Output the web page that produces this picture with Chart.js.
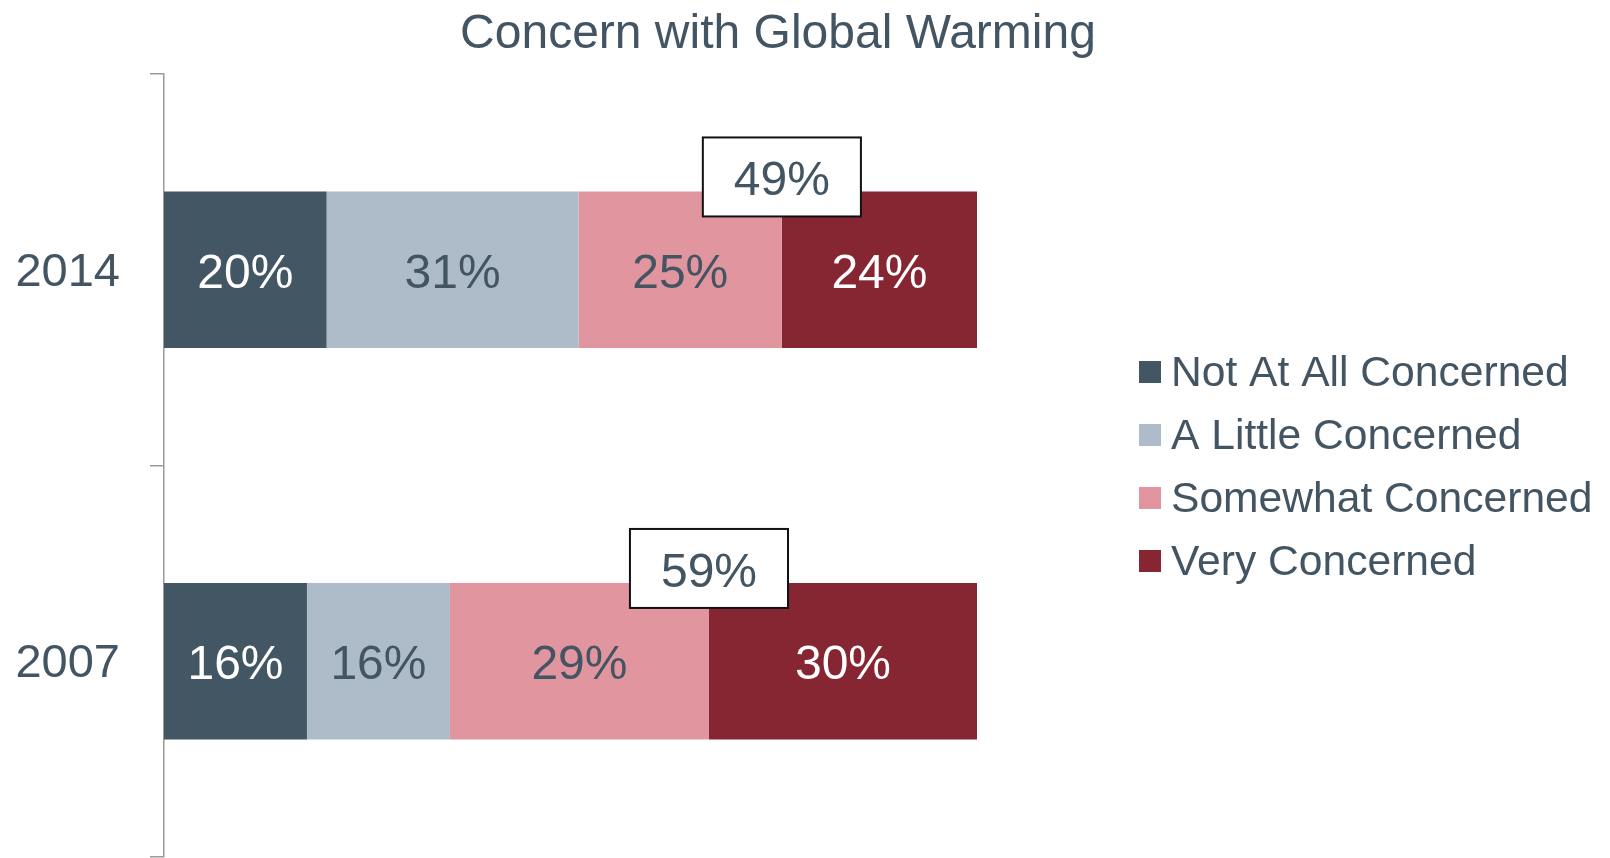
<!DOCTYPE html>
<html>
<head>
<meta charset="utf-8">
<script src="https://cdn.jsdelivr.net/npm/chart.js@4.4.1/dist/chart.umd.min.js"></script>
<style>
html, body { margin: 0; padding: 0; background: #ffffff; }
canvas { display: block; }
</style>
</head>
<body>
<canvas id="c" width="1610" height="858"></canvas>
<script>
// ---- data ----
const categories = ['2014', '2007'];
const seriesNames = ['Not At All Concerned', 'A Little Concerned', 'Somewhat Concerned', 'Very Concerned'];
const notAtAll = [20, 16];
const aLittle = [31, 16];
const somewhat = [25, 29];
const very = [24, 30];
const concernedTotal = [49, 59]; // boxed labels (Somewhat + Very)

// ---- style ----
const FONT = "'Liberation Sans', Arial, Helvetica, sans-serif";
const TEXT = '#435563';
const colors = ['#435664', '#adbcc8', '#e1959e', '#862633'];
const labelColors = ['#ffffff', TEXT, TEXT, '#ffffff'];

const seriesValues = [notAtAll, aLittle, somewhat, very];
const rowTotals = categories.map((_, i) => seriesValues.reduce((s, arr) => s + arr[i], 0));

const datasets = seriesValues.map((arr, k) => ({
  label: seriesNames[k],
  rawValues: arr,
  data: arr.map((v, i) => v / rowTotals[i] * 100),
  backgroundColor: colors[k],
  borderWidth: 0,
  barPercentage: 1,
  categoryPercentage: 0.4
}));

const barLabels = {
  id: 'barLabels',
  afterDatasetsDraw(chart) {
    const ctx = chart.ctx;
    ctx.save();
    ctx.font = '48px ' + FONT;
    ctx.textAlign = 'center';
    ctx.textBaseline = 'middle';
    chart.data.datasets.forEach((ds, di) => {
      const meta = chart.getDatasetMeta(di);
      meta.data.forEach((bar, i) => {
        const p = bar.getProps(['x', 'y', 'base'], true);
        ctx.fillStyle = labelColors[di];
        ctx.fillText(ds.rawValues[i] + '%', (p.x + p.base) / 2, p.y + 5);
      });
    });
    // boxed totals centred on the Somewhat / Very boundary
    const meta = chart.getDatasetMeta(2);
    meta.data.forEach((bar, i) => {
      const p = bar.getProps(['x', 'y', 'height'], true);
      const txt = concernedTotal[i] + '%';
      const w = ctx.measureText(txt).width + 62;
      const h = 79;
      const top = p.y - p.height / 2 - 54;
      const left = p.x - w / 2;
      ctx.fillStyle = '#ffffff';
      ctx.fillRect(left, top, w, h);
      ctx.lineWidth = 2;
      ctx.strokeStyle = '#111111';
      ctx.strokeRect(left, top, w, h);
      ctx.fillStyle = TEXT;
      ctx.fillText(txt, p.x, top + h / 2 + 5);
    });
    ctx.restore();
  }
};

const sideLegend = {
  id: 'sideLegend',
  afterDraw(chart) {
    const ctx = chart.ctx;
    const x0 = 1139, top0 = 361, gap = 63, sw = 22;
    ctx.save();
    ctx.font = '42.6px ' + FONT;
    ctx.textAlign = 'left';
    ctx.textBaseline = 'middle';
    chart.data.datasets.forEach((ds, di) => {
      const y = top0 + di * gap;
      ctx.fillStyle = ds.backgroundColor;
      ctx.fillRect(x0, y, sw, sw);
      ctx.fillStyle = TEXT;
      ctx.fillText(ds.label, x0 + 32, y + sw / 2 + 2);
    });
    ctx.restore();
  }
};

new Chart(document.getElementById('c'), {
  type: 'bar',
  data: { labels: categories, datasets: datasets },
  plugins: [barLabels, sideLegend],
  options: {
    responsive: false,
    animation: false,
    indexAxis: 'y',
    layout: { padding: { left: 0, right: 54, top: 0, bottom: 1 } },
    plugins: {
      legend: { display: false },
      tooltip: { enabled: false },
      title: {
        display: true,
        text: 'Concern with Global Warming',
        color: TEXT,
        font: { family: FONT, size: 48, weight: 'normal' },
        padding: { top: 6, bottom: 10.4 }
      }
    },
    scales: {
      x: { stacked: true, min: 0, max: 100, display: false },
      y: {
        stacked: true,
        position: 'left',
        grid: { display: true, drawOnChartArea: false, tickLength: 14, color: '#9a9a9a', lineWidth: 1.5, offset: true },
        border: { display: true, color: '#9a9a9a', width: 1.5 },
        ticks: { color: TEXT, font: { family: FONT, size: 47 }, padding: 30, labelOffset: 3 },
        afterFit: s => { s.width = 164; s.paddingTop = 0; s.paddingBottom = 0; }
      },
      y2: {
        type: 'category',
        axis: 'y',
        position: 'right',
        labels: categories,
        grid: { display: false },
        border: { display: false },
        ticks: { display: false },
        afterFit: s => { s.width = 579; s.paddingTop = 0; s.paddingBottom = 0; }
      }
    }
  }
});
</script>
</body>
</html>
